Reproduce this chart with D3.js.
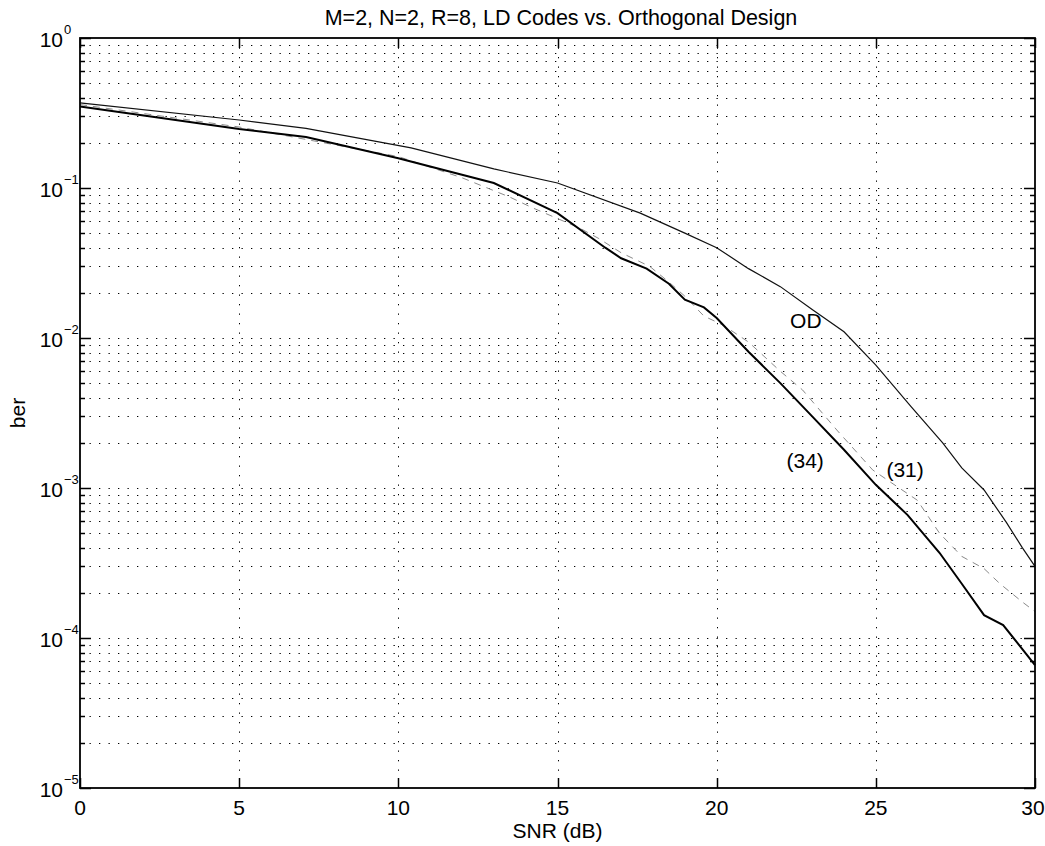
<!DOCTYPE html>
<html>
<head>
<meta charset="utf-8">
<script src="https://cdn.jsdelivr.net/npm/d3@7"></script>
<style>
  body { margin: 0; background: #fff; }
  svg { font-family: "Liberation Sans", Arial, Helvetica, sans-serif; }
</style>
</head>
<body>
<script>
// data
var snrOD = [0, 5, 7.1, 10.4, 13, 15, 17.6, 19, 20, 21, 22, 23, 24, 25, 26.1, 27.1, 27.7, 28.4, 29.1, 29.6, 30];
var berOD = [0.369, 0.284, 0.25, 0.185, 0.134, 0.108, 0.068, 0.05, 0.04, 0.029, 0.022, 0.0155, 0.011, 0.0066, 0.0035, 0.002, 0.00136, 0.00097, 0.00059, 0.0004, 0.0003];

var snr34 = [0, 5, 7.1, 10, 13, 15, 16.5, 17, 17.8, 18.5, 19, 19.6, 20, 21, 22, 23, 24, 25, 26, 27, 27.7, 28.4, 29, 30];
var ber34 = [0.35, 0.247, 0.219, 0.158, 0.108, 0.068, 0.04, 0.034, 0.029, 0.023, 0.018, 0.016, 0.0136, 0.0081, 0.005, 0.003, 0.0018, 0.00105, 0.00066, 0.00037, 0.00023, 0.000142, 0.000122, 0.000066];

var snr31 = [0, 5, 10, 12, 13.5, 14.2, 15.7, 16.3, 17, 17.9, 18.5, 19, 19.6, 20.2, 21, 22, 22.7, 23.8, 24.9, 25.5, 26.3, 27, 27.7, 28.4, 28.9, 29.6, 30];
var ber31 = [0.36, 0.255, 0.162, 0.117, 0.087, 0.074, 0.054, 0.046, 0.037, 0.03, 0.0236, 0.019, 0.014, 0.0122, 0.0094, 0.006, 0.0045, 0.0024, 0.00132, 0.00108, 0.00083, 0.0005, 0.00035, 0.00029, 0.00023, 0.000174, 0.00015];

var xTicks = [0, 5, 10, 15, 20, 25, 30];
var yExps = [0, -1, -2, -3, -4, -5];

var W = 1045, H = 846;
var pLeft = 80, pTop = 38, pRight = 1035, pBottom = 788;

var svg = d3.select("body").append("svg")
        .attr("width", W)
        .attr("height", H);

var x = d3.scaleLinear().domain([0, 30]).range([pLeft, pRight]);
var y = d3.scaleLog().domain([1e-5, 1]).range([pBottom, pTop]);

var grid = svg.append("g").attr("class", "grid")
        .attr("stroke", "#000")
        .attr("stroke-width", 1)
        .attr("stroke-dasharray", "1.3,8.2");

// horizontal grid, every 1..9 x decade
var yAll = y.ticks().filter(function(v){ return v > 1e-5 && v < 1; });
grid.selectAll("line.h").data(yAll).enter().append("line")
        .attr("x1", pLeft).attr("x2", pRight)
        .attr("y1", function(d){ return Math.round(y(d)) + 0.5; })
        .attr("y2", function(d){ return Math.round(y(d)) + 0.5; });

grid.selectAll("line.v").data(xTicks.slice(1, -1)).enter().append("line")
        .attr("y1", pTop).attr("y2", pBottom)
        .attr("x1", function(d){ return Math.round(x(d)) + 0.5; })
        .attr("x2", function(d){ return Math.round(x(d)) + 0.5; });

// curves
var line = d3.line()
        .x(function(d){ return x(d[0]); })
        .y(function(d){ return y(d[1]); });

svg.append("path")
        .datum(d3.zip(snr31, ber31))
        .attr("d", line)
        .attr("fill", "none")
        .attr("stroke", "#8a8a8a")
        .attr("stroke-width", 1)
        .attr("stroke-dasharray", "7,6");

svg.append("path")
        .datum(d3.zip(snrOD, berOD))
        .attr("d", line)
        .attr("fill", "none")
        .attr("stroke", "#111")
        .attr("stroke-width", 1.2);

svg.append("path")
        .datum(d3.zip(snr34, ber34))
        .attr("d", line)
        .attr("fill", "none")
        .attr("stroke", "#000")
        .attr("stroke-width", 2);

// ticks, pointing inwards on all four sides
var axes = svg.append("g").attr("stroke", "#000").attr("stroke-width", 1.5);
xTicks.forEach(function(t){
    var px = Math.round(x(t)) + 0.5;
    axes.append("line").attr("x1", px).attr("x2", px).attr("y1", pBottom).attr("y2", pBottom - 10);
    axes.append("line").attr("x1", px).attr("x2", px).attr("y1", pTop).attr("y2", pTop + 10);
});
y.ticks().forEach(function(v){
    var py = Math.round(y(v)) + 0.5;
    var major = Math.abs(Math.log10(v) - Math.round(Math.log10(v))) < 1e-9;
    var len = major ? 11 : 5;
    axes.append("line").attr("x1", pLeft).attr("x2", pLeft + len).attr("y1", py).attr("y2", py);
    axes.append("line").attr("x1", pRight).attr("x2", pRight - len).attr("y1", py).attr("y2", py);
});

svg.append("rect")
        .attr("x", pLeft).attr("y", pTop)
        .attr("width", pRight - pLeft).attr("height", pBottom - pTop)
        .attr("fill", "none")
        .attr("stroke", "#000")
        .attr("stroke-width", 1.8);

// tick labels (last one kept inside the window)
svg.selectAll("text.xt").data(xTicks).enter().append("text")
        .attr("x", function(d){ return Math.min(x(d), W - 12); })
        .attr("y", pBottom + 27)
        .attr("text-anchor", "middle")
        .attr("font-size", 21)
        .text(function(d){ return d; });

yExps.forEach(function(e){
    var py = y(Math.pow(10, e));
    svg.append("text")
        .attr("x", 63).attr("y", py + 9)
        .attr("text-anchor", "end")
        .attr("font-size", 21)
        .text("10");
    svg.append("text")
        .attr("x", 64).attr("y", py - 4)
        .attr("font-size", 13)
        .text(e === 0 ? "0" : "\u2212" + (-e));
});

// titles
svg.append("text")
        .attr("x", 561).attr("y", 25)
        .attr("text-anchor", "middle")
        .attr("font-size", 21.5)
        .text("M=2, N=2, R=8, LD Codes vs. Orthogonal Design");

svg.append("text")
        .attr("x", (pLeft + pRight) / 2).attr("y", 838)
        .attr("text-anchor", "middle")
        .attr("font-size", 21)
        .text("SNR (dB)");

svg.append("text")
        .attr("transform", "translate(25," + (pTop + pBottom) / 2 + ") rotate(-90)")
        .attr("text-anchor", "middle")
        .attr("font-size", 21)
        .text("ber");

// curve annotations
var notes = [["OD", 22.8, 0.0117], ["(34)", 22.78, 0.00135], ["(31)", 25.92, 0.00118]];
notes.forEach(function(n){
    svg.append("text")
        .attr("x", x(n[1])).attr("y", y(n[2]))
        .attr("text-anchor", "middle")
        .attr("font-size", 21)
        .text(n[0]);
});
</script>
</body>
</html>
